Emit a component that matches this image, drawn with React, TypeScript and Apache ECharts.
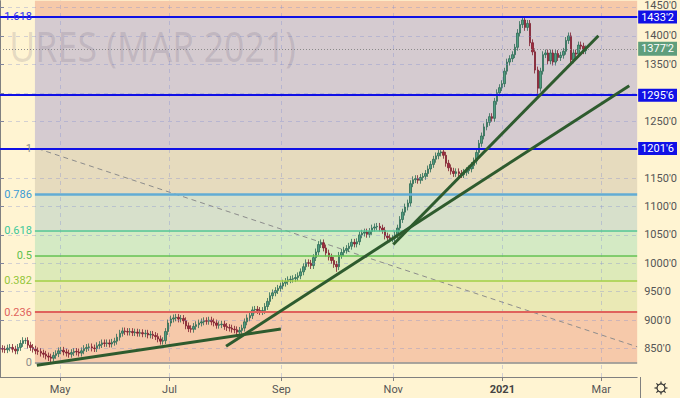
import React, { useEffect, useRef } from 'react';
import * as echarts from 'echarts';

// Daily closes (bar index 0..230)
const closes = [
  850, 849, 848, 851, 852, 849, 846, 852, 859, 864,
  864, 856, 852, 849, 846, 845, 842, 840, 837, 835,
  833, 838, 841, 846, 847, 844, 842, 840, 843, 845,
  844, 842, 846, 850, 852, 853, 851, 850, 855, 857,
  860, 859, 860, 858, 861, 863, 870, 877, 881, 880,
  879, 880, 878, 879, 877, 878, 876, 877, 874, 875,
  873, 871, 867, 863, 864, 880, 895, 902, 904, 905,
  902, 903, 899, 890, 885, 884, 889, 892, 895, 897,
  899, 898, 900, 897, 895, 891, 892, 893, 889, 887,
  886, 884, 883, 879, 882, 886, 897, 904, 908, 918,
  919, 917, 915, 917, 924, 933, 943, 948, 952, 956,
  960, 965, 968, 971, 972, 973, 975, 978, 985, 994,
  1001, 1000, 996, 1010, 1020, 1033, 1036, 1027, 1018, 1011,
  1005, 998, 994, 1014, 1019, 1023, 1026, 1030, 1037, 1034,
  1038, 1050, 1053, 1055, 1051, 1056, 1062, 1064, 1065, 1062,
  1058, 1048, 1045, 1043, 1044, 1050, 1062, 1077, 1090, 1099,
  1106, 1140, 1147, 1149, 1146, 1151, 1153, 1158, 1166, 1174,
  1183, 1189, 1194, 1196, 1190, 1176, 1168, 1162, 1158, 1161,
  1158, 1156, 1160, 1163, 1166, 1172, 1180, 1195, 1211, 1224,
  1240, 1248, 1258, 1255, 1285, 1300, 1309, 1316, 1338, 1354,
  1360, 1367, 1380, 1405, 1420, 1428, 1415, 1422, 1388, 1372,
  1340, 1308, 1338, 1367, 1370, 1356, 1370, 1354, 1369, 1362,
  1366, 1373, 1392, 1400, 1358, 1370, 1368, 1384, 1382, 1374,
  1377.25,
];
const firstOpen = 851;
const wickSize = 6;
const highOverrides: [number, number][] = [[205, 1433.25], [173, 1199], [203, 1412], [223, 1406], [10, 869]];
const lowOverrides: [number, number][] = [[19, 828], [20, 826], [211, 1295.5], [132, 985]];

// Fibonacci retracement
const fibLow = 825.5;
const fibHigh = 1201.75;
const fibStartIdx = 13.7;
const axisEndIdx = 250;
const fibLevels = [0, 0.236, 0.382, 0.5, 0.618, 0.786, 1, 1.618];
const fibLabels = ['0', '0.236', '0.382', '0.5', '0.618', '0.786', '1', '1.618'];
const fibLineColors = ['#8c8c8c', '#e0625c', '#a2cf45', '#62c252', '#52c495', '#62acd4', '#1a1ae8', '#1a1ae8'];
const fibLabelColors = ['#8c8c8c', '#e0625c', '#93c63a', '#5cbf4c', '#3cc89a', '#3a9bd5', '#8c8c8c', '#2a2aee'];
const fibLineWidths = [1.5, 2, 1.5, 1.5, 1.5, 2.5, 1.5, 1.5];
const zoneColors = ['#f6c9aa', '#eae9b5', '#ddeab9', '#d4eac4', '#d7e0cb', '#e6dbbe', '#d5cbd0', '#f6c9a9'];

// Horizontal levels and last price
const levelPrices = [1433.25, 1295.75, 1201.75];
const levelLabels = ["1433'2", "1295'6", "1201'6"];
const lastPrice = 1377.25;
const lastLabel = "1377'2";

// Axes
const yMin = 800;
const yMax = 1462;
const yTicks = [850, 900, 950, 1000, 1050, 1100, 1150, 1200, 1250, 1300, 1350, 1400, 1450];
const hiddenTicks = [1200, 1300];
const monthIdx = [23.55, 66.5, 110.4, 154.3, 197.1, 235.9];
const monthLabels = ['May', 'Jul', 'Sep', 'Nov', '2021', 'Mar'];

// Trend lines [barIndex, price]
const trendA = [[14.45, 820.7], [110.2, 884.4]];
const trendB = [[88.7, 854.0], [246.9, 1312.5]];
const trendC = [[154.3, 1033.2], [234.8, 1400.3]];
const fibDiag = [[14.8, 1201.75], [250, 853.2]];

const gridColor = 'rgba(130,140,210,0.35)';

export default function App() {
  const ref = useRef<HTMLDivElement>(null);
  useEffect(() => {
    if (!ref.current) return;
    const chart = echarts.init(ref.current, undefined, { renderer: 'svg' });

    const candles = closes.map((c, i) => {
      const o = i === 0 ? firstOpen : closes[i - 1];
      let h = Math.max(o, c) + wickSize;
      let l = Math.min(o, c) - wickSize;
      const ho = highOverrides.find((d) => d[0] === i);
      const lo = lowOverrides.find((d) => d[0] === i);
      if (ho) h = ho[1];
      if (lo) l = lo[1];
      return [i, o, c, l, h];
    });

    const fibPrice = (lv: number) => fibLow + lv * (fibHigh - fibLow);

    const zones = fibLevels.map((lv, i) => {
      const lo = fibPrice(lv);
      const hi = i + 1 < fibLevels.length ? fibPrice(fibLevels[i + 1]) : yMax;
      return [
        { coord: [fibStartIdx, lo], itemStyle: { color: zoneColors[i] } },
        { coord: [axisEndIdx, hi] },
      ];
    });

    const gridLines: any[] = [
      ...yTicks.map((t) => ({ yAxis: t, lineStyle: { type: [4, 4], color: gridColor, width: 1 }, label: { show: false } })),
      ...monthIdx.map((m) => ({ xAxis: m, lineStyle: { type: [4, 4], color: gridColor, width: 1 }, label: { show: false } })),
    ];

    const fibLines: any[] = fibLevels.map((lv, i) => [
      {
        coord: [fibStartIdx, fibPrice(lv)],
        lineStyle: { color: fibLineColors[i], width: fibLineWidths[i], type: 'solid' },
        label: {
          show: true, position: 'start', formatter: fibLabels[i], color: fibLabelColors[i],
          fontSize: 11, distance: 3, fontFamily: 'Roboto',
        },
      },
      { coord: [axisEndIdx, fibPrice(lv)] },
    ]);

    const levelLines: any[] = levelPrices.map((p, i) => ({
      yAxis: p,
      lineStyle: { color: '#1010e6', width: 2, type: 'solid' },
      label: {
        show: true, position: 'end', formatter: levelLabels[i], backgroundColor: '#1010e6',
        color: '#ffffff', padding: [1, 3, 0, 3], lineHeight: 12, fontSize: 11, distance: 1, fontFamily: 'Roboto',
      },
    }));

    const lastLine = {
      yAxis: lastPrice,
      lineStyle: { color: '#8a8a8a', width: 1, type: [1, 2] },
      label: {
        show: true, position: 'end', formatter: lastLabel, backgroundColor: '#5f9e7c',
        color: '#ffffff', padding: [2, 3, 1, 3], fontSize: 11, distance: 1, fontFamily: 'Roboto',
      },
    };

    const trendStyle = { color: '#2e5b2e', width: 3 };

    chart.setOption({
      animation: false,
      backgroundColor: '#fff4d2',
      textStyle: { fontFamily: 'Roboto' },
      grid: { left: 0, right: 40, top: 0, bottom: 21, containLabel: false },
      xAxis: {
        type: 'value',
        min: 0,
        max: axisEndIdx,
        axisLine: { show: true, onZero: false, lineStyle: { color: '#808080' } },
        axisTick: { show: true, length: 4, customValues: monthIdx, lineStyle: { color: '#808080' } },
        splitLine: { show: false },
        axisLabel: {
          customValues: monthIdx,
          color: '#555',
          fontSize: 11,
          margin: 7,
          formatter: (v: number) => {
            const k = monthIdx.findIndex((m) => Math.abs(m - v) < 0.01);
            if (k < 0) return '';
            const t = monthLabels[k];
            return /^\d{4}$/.test(t) ? `{b|${t}}` : t;
          },
          rich: { b: { fontWeight: 'bold', color: '#444', fontSize: 11 } },
        },
      },
      yAxis: {
        type: 'value',
        position: 'right',
        min: yMin,
        max: yMax,
        interval: 50,
        axisLine: { show: true, lineStyle: { color: '#808080' } },
        axisTick: { show: true, length: 4, customValues: yTicks, lineStyle: { color: '#808080' } },
        splitLine: { show: false },
        axisLabel: {
          customValues: yTicks,
          color: '#555',
          fontSize: 11,
          margin: 7,
          verticalAlign: 'middle',
          formatter: (v: number) => {
            if (v % 50 !== 0 || v <= yMin || hiddenTicks.includes(v)) return '';
            return v === yTicks[yTicks.length - 1] ? `{top|${v}'0}` : `${v}'0`;
          },
          rich: { top: { color: '#555', fontSize: 11, lineHeight: 11, padding: [0, 0, 4, 0] } },
        },
      },
      series: [
        {
          name: 'fib',
          type: 'line',
          data: [],
          silent: true,
          z: 1,
          markArea: { silent: true, data: zones },
          markLine: {
            silent: true,
            symbol: ['none', 'none'],
            data: [...gridLines, ...fibLines, ...levelLines, lastLine],
          },
        },
        {
          name: 'fibDiag',
          type: 'line',
          data: fibDiag,
          symbol: 'none',
          silent: true,
          z: 3,
          lineStyle: { color: '#8c8c8c', width: 1, type: [5, 4] },
        },
        {
          name: 'price',
          type: 'candlestick',
          data: candles,
          encode: { x: 0, y: [1, 2, 3, 4] },
          barWidth: 2,
          z: 4,
          itemStyle: {
            color: '#4f9d80',
            color0: '#a32c40',
            borderColor: '#2d6b55',
            borderColor0: '#7d1e2f',
            borderWidth: 0.8,
          },
        },
        ...[trendA, trendB, trendC].map((d, i) => ({
          name: 'trend' + i,
          type: 'line',
          data: d,
          symbol: 'none',
          silent: true,
          z: 5,
          lineStyle: trendStyle,
        })),
      ],
      graphic: [
        {
          type: 'text',
          x: 296,
          y: 45,
          z: 100,
          scaleX: 0.85,
          silent: true,
          style: {
            text: 'URES (MAR 2021)',
            fontSize: 42,
            fontFamily: 'Noto Sans',
            fill: 'rgba(90,80,110,0.16)',
            align: 'right',
            verticalAlign: 'middle',
          },
        },
        {
          type: 'line',
          z: 100,
          shape: { x1: 640.5, y1: 377, x2: 640.5, y2: 398 },
          style: { stroke: '#808080', lineWidth: 1 },
        },
        {
          type: 'group',
          x: 661,
          y: 388,
          z: 100,
          children: [
            { type: 'circle', shape: { cx: 0, cy: 0, r: 4 }, style: { fill: 'none', stroke: '#333', lineWidth: 1.2 } },
            ...[0, 45, 90, 135, 180, 225, 270, 315].map((a) => {
              const r = (a * Math.PI) / 180;
              return {
                type: 'line',
                shape: { x1: Math.cos(r) * 4, y1: Math.sin(r) * 4, x2: Math.cos(r) * 6.5, y2: Math.sin(r) * 6.5 },
                style: { stroke: '#333', lineWidth: 1.2 },
              };
            }),
          ],
        },
      ],
    });
    return () => chart.dispose();
  }, []);
  return (
    <div
      ref={ref}
      style={{ position: 'fixed', left: 0, top: 0, width: 680, height: 398 }}
    />
  );
}
